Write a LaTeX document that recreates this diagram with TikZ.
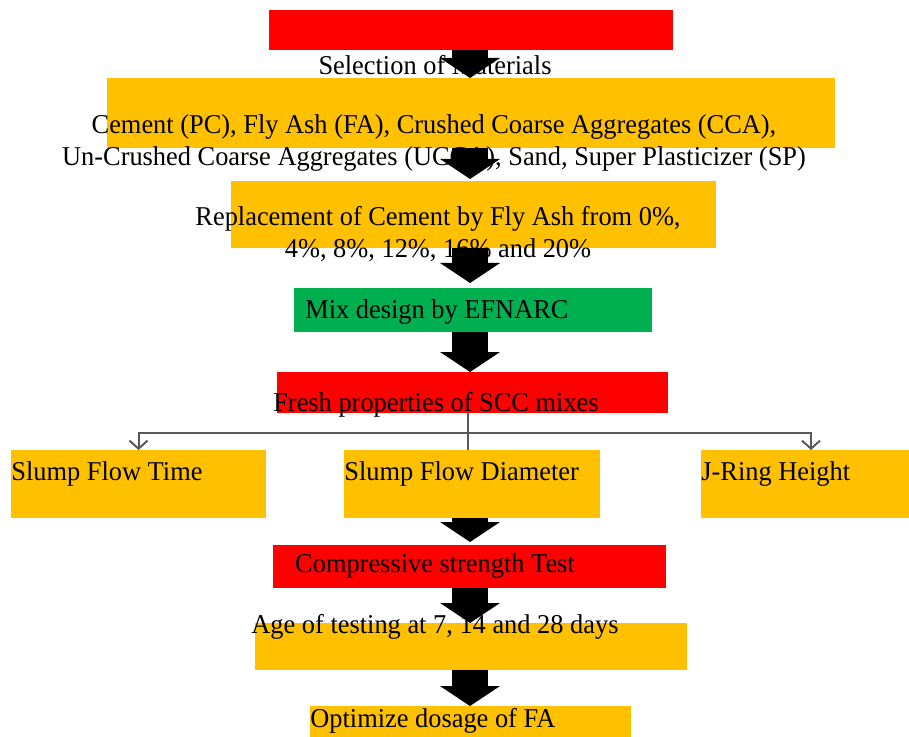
\documentclass[tikz,border=0pt]{standalone}
\usepackage{fontspec}
\setmainfont{Liberation Serif}[FakeStretch=0.97]
\usetikzlibrary{arrows.meta}

\definecolor{boxred}{HTML}{FF0000}
\definecolor{boxorange}{HTML}{FFC000}
\definecolor{boxgreen}{HTML}{00B050}

\begin{document}
\begin{tikzpicture}[x=0.5pt, y=-0.5pt,
  box/.style={inner sep=0pt, outer sep=0pt},
  txt/.style={font=\fontsize{13.6}{16}\selectfont, inner sep=0pt, align=center},
  blockarrow/.style={line width=18pt, -{Triangle[width=30pt, length=10pt, line width=0pt]}},
  link/.style={draw=black!65, line width=1pt}]
\useasboundingbox (0,0) rectangle (909,737);
\coordinate (spine) at (470,0);
\coordinate (split) at (468,433);
% boxes
\node [box, fill=boxred, minimum width=202pt, minimum height=20pt] (sel) at (471,30) {};
\node [box, fill=boxorange, minimum width=364pt, minimum height=35pt] (mat) at (471,113) {};
\node [box, fill=boxorange, minimum width=242.5pt, minimum height=33.5pt] (repl) at (473.5,214.5) {};
\node [box, fill=boxgreen, minimum width=179pt, minimum height=22pt] (mix) at (473,310) {};
\node [box, fill=boxred, minimum width=195.5pt, minimum height=20.5pt] (fresh) at (472.5,392.5) {};
\node [box, fill=boxorange, minimum width=127.5pt, minimum height=34pt] (time) at (138.5,484) {};
\node [box, fill=boxorange, minimum width=128pt, minimum height=34pt] (diam) at (472,484) {};
\node [box, fill=boxorange, minimum width=110pt, minimum height=34pt] (ring) at (811,484) {};
\node [box, fill=boxred, minimum width=196.5pt, minimum height=21.5pt] (comp) at (469.5,566.5) {};
\node [box, fill=boxorange, minimum width=216pt, minimum height=23.5pt] (age) at (471,646.5) {};
\node [box, fill=boxorange, minimum width=160.5pt, minimum height=20pt] (opt) at (470.5,726) {};
% texts (base = last line)
\node [txt, anchor=base] (selt) at (435,75) {Selection of Materials};
\node [txt, anchor=base] (matt) at (434,166) {Cement (PC), Fly Ash (FA), Crushed Coarse Aggregates (CCA),\\Un-Crushed Coarse Aggregates (UCCA), Sand, Super Plasticizer (SP)};
\node [txt, anchor=base] (replt) at (438,258) {Replacement of Cement by Fly Ash from 0\%,\\4\%, 8\%, 12\%, 16\% and 20\%};
\node [txt, anchor=base] (mixt) at (437,319) {Mix design by EFNARC};
\node [txt, anchor=base] (fresht) at (436,411) {Fresh properties of SCC mixes};
\node [txt, anchor=base west] (timet) at (11,480) {Slump Flow Time};
\node [txt, anchor=base west] (diamt) at (344,480) {Slump Flow Diameter};
\node [txt, anchor=base west] (ringt) at (701,480) {J-Ring Height};
\node [txt, anchor=base] (compt) at (435,572) {Compressive strength Test};
\node [txt, anchor=base] (aget) at (435,633) {Age of testing at 7, 14 and 28 days};
\node [txt, anchor=base west] (optt) at (310,727) {Optimize dosage of FA};
% branches
\draw [link] (split |- fresh.south) -- (split |- diam.north);
\draw [link, -{Straight Barb[length=4pt, width=9pt]}] (split) -| (time.north);
\draw [link, -{Straight Barb[length=4pt, width=9pt]}] (split) -| (ring.north);
% block arrows
\draw [blockarrow] (spine |- sel.south) -- (spine |- mat.north);
\draw [blockarrow] (spine |- mat.south) -- ([yshift=1pt]spine |- repl.north);
\draw [blockarrow] (spine |- repl.south) -- ([yshift=2.5pt]spine |- mix.north);
\draw [blockarrow] (spine |- mix.south) -- (spine |- fresh.north);
\draw [blockarrow, shorten >=1.5pt] (spine |- diam.south) -- (spine |- comp.north);
\draw [blockarrow] (spine |- comp.south) -- (spine |- age.north);
\draw [blockarrow] (spine |- age.south) -- (spine |- opt.north);
\end{tikzpicture}
\end{document}
